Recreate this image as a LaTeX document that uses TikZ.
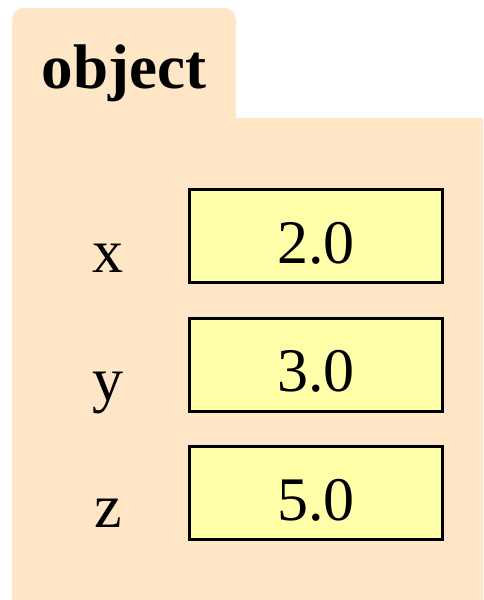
\documentclass[tikz,border=0pt]{standalone}
\usepackage{fontspec}
\setmainfont{Liberation Serif}
\definecolor{folder}{HTML}{FFE6C6}
\definecolor{cell}{HTML}{FFFFAA}
\begin{document}
\begin{tikzpicture}[x=1pt,y=-1pt,
  valbox/.style={draw=black,line width=3pt,fill=cell,minimum width=253pt,minimum height=93pt,inner sep=0pt},
  big/.style={font=\fontsize{62}{70}\selectfont},
  lbl/.style={big,anchor=base,inner sep=0pt}]
\useasboundingbox (0,0) rectangle (483,600);
\fill[folder] (12,600) -- (12,20) arc[start angle=180,end angle=270,radius=12] -- (224,8) arc[start angle=270,end angle=360,radius=12] -- (236,118) -- (483,118) -- (483,600) -- cycle;
\node[lbl,font=\fontsize{63}{70}\selectfont\bfseries] (title) at (124,88) {object};
\node[valbox] (bx) at (316,236) {};
\node[valbox] (by) at (316,364.5) {};
\node[valbox] (bz) at (316,493) {};
\node[lbl] (vx) at (316,263) {2.0};
\node[lbl] (vy) at (316,391.5) {3.0};
\node[lbl] (vz) at (316,520) {5.0};
\node[lbl] (lx) at (108,272) {x};
\node[lbl] (ly) at (108,400) {y};
\node[lbl] (lz) at (108,527) {z};
\end{tikzpicture}
\end{document}
